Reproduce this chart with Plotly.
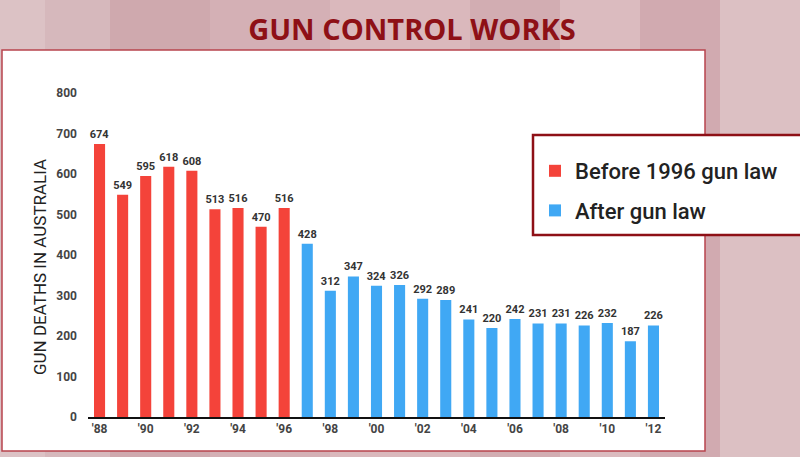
import plotly.graph_objects as go

# Gun deaths in Australia
years_before = list(range(1988, 1997))
deaths_before = [674, 549, 595, 618, 608, 513, 516, 470, 516]
years_after = list(range(1997, 2013))
deaths_after = [428, 312, 347, 324, 326, 292, 289, 241, 220, 242, 231, 231, 226, 232, 187, 226]
tick_years = list(range(1988, 2013, 2))
tick_labels = ["'%02d" % (y % 100) for y in tick_years]

RED = "#f4433a"
BLUE = "#40a8f4"
DARK_RED = "#8e1016"
label_font = dict(family="Roboto", size=11, color="#333333", weight="bold")

fig = go.Figure()
fig.add_trace(go.Bar(
        x=years_before, y=deaths_before, name="Before 1996 gun law",
        legendgroup="before",
        marker=dict(color=RED, line=dict(width=0)),
        text=deaths_before, textposition="outside", constraintext="none",
        textfont=label_font, cliponaxis=False))
fig.add_trace(go.Bar(
        x=years_after, y=deaths_after, name="After gun law",
        legendgroup="after",
        marker=dict(color=BLUE, line=dict(width=0)),
        text=deaths_after, textposition="outside", constraintext="none",
        textfont=label_font, cliponaxis=False))

# plot area is 88..665 px wide and 93..417 px tall
pw, ph = 577.0, 324.0
def px_x(p):
    return (p - 88) / pw
def px_y(p):
    return (417 - p) / ph

shapes = []
# pink backdrop stripes
stripes = [(0, 45, "#dcc2c5"), (45, 110, "#d6b8bc"), (110, 210, "#cfa9ae"),
           (210, 330, "#d4b0b5"), (330, 470, "#dab8bc"), (470, 560, "#d2adb2"),
           (560, 640, "#dbbbbf"), (640, 720, "#d1aab0"), (720, 800, "#dcc0c3")]
for a, b, c in stripes:
    shapes.append(dict(type="rect", xref="paper", yref="paper",
                       x0=px_x(a), x1=px_x(b), y0=px_y(457), y1=px_y(0),
                       fillcolor=c, line=dict(width=0), layer="below"))
# white chart panel
shapes.append(dict(type="rect", xref="paper", yref="paper",
                   x0=px_x(2), x1=px_x(705), y0=px_y(451), y1=px_y(50),
                   fillcolor="white", line=dict(color="#b8444e", width=1.5),
                   layer="below"))
# legend box
shapes.append(dict(type="rect", xref="paper", yref="paper",
                   x0=px_x(533), x1=px_x(810), y0=px_y(235), y1=px_y(135),
                   fillcolor="white", line=dict(color=DARK_RED, width=2.5),
                   layer="above"))

fig.update_layout(
        width=800, height=457,
        margin=dict(l=88, r=135, t=93, b=40, autoexpand=False),
        paper_bgcolor="#d8b6ba",
        plot_bgcolor="rgba(0,0,0,0)",
        bargap=0.52,
        showlegend=True,
        shapes=shapes,
        font=dict(family="Roboto", color="#333333"),
        title=dict(text="<b>GUN CONTROL WORKS</b>", x=412 / 800, xanchor="center",
                   y=1 - 30 / 457, yanchor="middle",
                   font=dict(family="Open Sans", size=29, color=DARK_RED)),
        legend=dict(x=px_x(535), y=px_y(150), xanchor="left", yanchor="top",
                    bgcolor="rgba(0,0,0,0)", borderwidth=0,
                    font=dict(family="Roboto", size=22, color="#222222", weight=500),
                    itemwidth=30, tracegroupgap=8, traceorder="grouped"),
        annotations=[dict(text="GUN DEATHS IN AUSTRALIA", textangle=-90,
                          xref="paper", yref="paper", x=px_x(28), y=px_y(267),
                          showarrow=False, font=dict(size=17, color="#222222"))],
        xaxis=dict(range=[1987.5, 2012.5], tickvals=tick_years, ticktext=tick_labels,
                   showline=True, linecolor="#111111", linewidth=2,
                   showgrid=False, zeroline=False, ticks="", automargin=False,
                   tickfont=dict(size=12, color="#444444", weight="bold")),
        yaxis=dict(range=[0, 800], dtick=100, showgrid=False, zeroline=False,
                   showline=False, ticks="", ticklabelstandoff=10, automargin=False,
                   tickfont=dict(size=12, color="#444444", weight="bold")))

# drop the page's default body margin so the figure sits at the window corner
fig.write_html("out.html", config={"displayModeBar": False},
               post_script="document.body.style.margin = '0';")
